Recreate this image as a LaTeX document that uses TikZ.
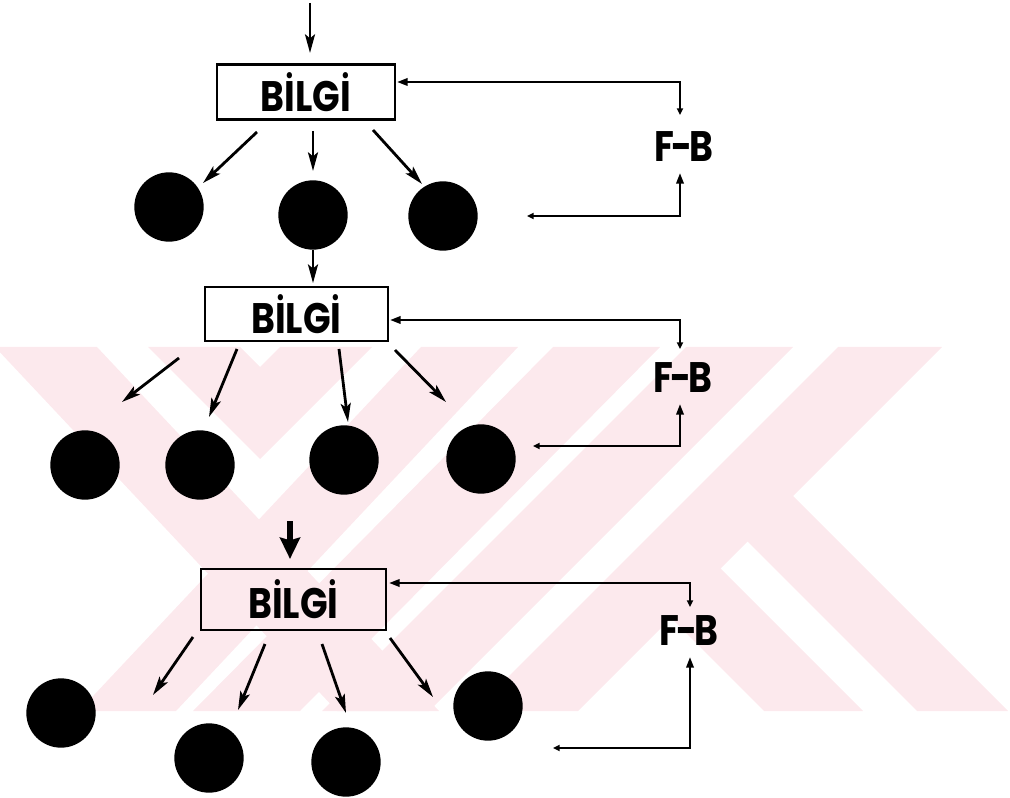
\documentclass[tikz,border=0pt]{standalone}
\usepackage{fontspec}
\setmainfont{Poppins}[FakeStretch=0.85]
\usetikzlibrary{arrows.meta}
\definecolor{wm}{RGB}{252,233,237}
\begin{document}
\begin{tikzpicture}[x=0.75pt,y=-0.75pt,
  bx/.style={draw,line width=1.8pt,inner sep=0pt,font=\fontsize{32}{34}\selectfont\bfseries},
  dot/.style={circle,fill=black,inner sep=0pt,minimum size=52pt},
  lbl/.style={inner sep=0pt,font=\fontsize{32}{34}\selectfont\bfseries},
  ar/.style={line width=2.1pt,-{Stealth[length=14pt,width=7.5pt,inset=3pt]}},
  bigar/.style={line width=5pt,-{Stealth[length=16pt,width=15pt,inset=2pt]}},
  fb/.style={line width=1.8pt,{Triangle[length=5pt,width=4.5pt]}-{Triangle[length=8pt,width=5.5pt]}}]
\useasboundingbox (0,0) rectangle (1010,798);
% watermark
\begin{scope}
\clip (0,347) rectangle (1010,711);
\fill[wm] (-5,347) -- (97,347) -- (439,711) -- (337,711) -- cycle;
\fill[wm] (421,347) -- (518,347) -- (176,711) -- (79,711) -- cycle;
\fill[wm] (148,347) -- (240,347) -- (260,367) -- (280,347) -- (372,347) -- (260,459) -- cycle;
\fill[wm] (553,347) -- (660,347) -- (300,711) -- (193,711) -- cycle;
\fill[wm] (686,347) -- (793,347) -- (429,711) -- (322,711) -- cycle;
\fill[wm] (838,347) -- (942,347) -- (578,711) -- (474,711) -- cycle;
\fill[wm] (620,567) -- (719,567) -- (863,711) -- (764,711) -- cycle;
\fill[wm] (702,496) -- (793,496) -- (1008,711) -- (917,711) -- cycle;
\end{scope}
% row 1
\node[bx,minimum width=133.5pt,minimum height=41pt] (b1) at (306,92) {BİLGİ};
\coordinate (in1s) at (310,3); \coordinate (in1e) at (310,53);
\draw[ar] (in1s) -- (in1e);
\node[dot] (c11) at (169,207) {};
\node[dot] (c12) at (313,215) {};
\node[dot] (c13) at (443,216) {};
\coordinate (a11s) at (257,132); \coordinate (a11e) at (203,183);
\coordinate (a12s) at (313,131); \coordinate (a12e) at (313,171);
\coordinate (a13s) at (373,130); \coordinate (a13e) at (422,184);
\draw[ar] (a11s) -- (a11e);
\draw[ar] (a12s) -- (a12e);
\draw[ar] (a13s) -- (a13e);
\node[lbl] (fb1) at (684,147) {F\kern-2.5pt-\kern-2.5pt B};
\coordinate (s1) at (527,216); \coordinate (t1) at (680,173);
\coordinate (u1) at (680,115); \coordinate (e1) at (397,82);
\draw[fb] (s1) -| (t1);
\draw[fb] (u1) |- (e1);
% row 2
\node[bx,minimum width=137pt,minimum height=40.5pt] (b2) at (296.5,314) {BİLGİ};
\draw[ar] (c12.south) -- ([yshift=2pt]c12.south |- b2.north);
\node[dot] (c21) at (85,465) {};
\node[dot] (c22) at (200,465) {};
\node[dot] (c23) at (344,460) {};
\node[dot] (c24) at (481,459) {};
\coordinate (a21s) at (179,358); \coordinate (a21e) at (122,402);
\coordinate (a22s) at (237,349); \coordinate (a22e) at (209,417);
\coordinate (a23s) at (339,349); \coordinate (a23e) at (348,422);
\coordinate (a24s) at (395,350); \coordinate (a24e) at (446,402);
\draw[ar] (a21s) -- (a21e);
\draw[ar] (a22s) -- (a22e);
\draw[ar] (a23s) -- (a23e);
\draw[ar] (a24s) -- (a24e);
\node[lbl] (fb2) at (683,378) {F\kern-2.5pt-\kern-2.5pt B};
\coordinate (s2) at (533,446); \coordinate (t2) at (680,404);
\coordinate (u2) at (680,349); \coordinate (e2) at (390,320);
\draw[fb] (s2) -| (t2);
\draw[fb] (u2) |- (e2);
% row 3
\coordinate (in3s) at (290,521); \coordinate (in3e) at (290,559);
\draw[bigar] (in3s) -- (in3e);
\node[bx,minimum width=139pt,minimum height=46pt] (b3) at (293.5,599.5) {BİLGİ};
\node[dot] (c31) at (61,713) {};
\node[dot] (c32) at (209,758) {};
\node[dot] (c33) at (346,762) {};
\node[dot] (c34) at (488,706) {};
\coordinate (a31s) at (193,637); \coordinate (a31e) at (153,695);
\coordinate (a32s) at (265,644); \coordinate (a32e) at (238,710);
\coordinate (a33s) at (322,644); \coordinate (a33e) at (346,713);
\coordinate (a34s) at (390,638); \coordinate (a34e) at (433,697);
\draw[ar] (a31s) -- (a31e);
\draw[ar] (a32s) -- (a32e);
\draw[ar] (a33s) -- (a33e);
\draw[ar] (a34s) -- (a34e);
\node[lbl] (fb3) at (689,631) {F\kern-2.5pt-\kern-2.5pt B};
\coordinate (s3) at (553,748); \coordinate (t3) at (690,657);
\coordinate (u3) at (690,607); \coordinate (e3) at (389,583);
\draw[fb] (s3) -| (t3);
\draw[fb] (u3) |- (e3);
\end{tikzpicture}
\end{document}
